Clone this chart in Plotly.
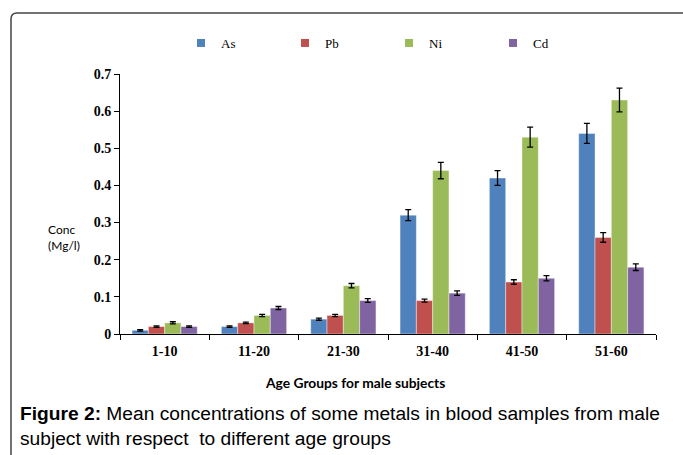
import plotly.graph_objects as go

categories = ["1-10", "11-20", "21-30", "31-40", "41-50", "51-60"]
series_names = ["As", "Pb", "Ni", "Cd"]
as_vals = [0.01, 0.02, 0.04, 0.32, 0.42, 0.54]
pb_vals = [0.02, 0.03, 0.05, 0.09, 0.14, 0.26]
ni_vals = [0.03, 0.05, 0.13, 0.44, 0.53, 0.63]
cd_vals = [0.02, 0.07, 0.09, 0.11, 0.15, 0.18]
as_err = [0.002, 0.002, 0.003, 0.015, 0.02, 0.027]
pb_err = [0.002, 0.002, 0.003, 0.004, 0.006, 0.013]
ni_err = [0.003, 0.003, 0.006, 0.022, 0.027, 0.032]
cd_err = [0.002, 0.004, 0.005, 0.006, 0.007, 0.009]
colors = ["#4F81BD", "#C0504D", "#9BBB59", "#8064A2"]

W, H = 683, 455
L, R, T, B = 120, 27, 74, 121
PW, PH = W - L - R, H - T - B


def px(x):
    return (x - L) / PW


def py(y):
    return (H - B - y) / PH


fig = go.Figure()
for name, vals, errs, col in zip(series_names, [as_vals, pb_vals, ni_vals, cd_vals],
                                 [as_err, pb_err, ni_err, cd_err], colors):
    fig.add_trace(go.Bar(
        x=categories, y=vals, name=name,
        marker=dict(color=col, line=dict(color="rgba(255,255,255,0.5)", width=0.8)),
        error_y=dict(type="data", array=errs, color="black", thickness=1.3, width=3),
        showlegend=False,
    ))
    fig.add_trace(go.Scatter(
        x=[None], y=[None], mode="markers", name=name,
        marker=dict(symbol="square", size=8, color=col), showlegend=True,
    ))

serif_bold = dict(family="Liberation Serif", size=14, color="black", weight="bold")

fig.update_layout(
    width=W, height=H,
    margin=dict(l=L, r=R, t=T, b=B),
    paper_bgcolor="white", plot_bgcolor="white",
    barmode="group", bargap=0.27, bargroupgap=0,
    legend=dict(orientation="h", x=px(181), xanchor="left", y=py(43), yanchor="middle",
                font=dict(family="Liberation Serif", size=13, color="black"),
                entrywidth=59, entrywidthmode="pixels", bgcolor="rgba(0,0,0,0)"),
    xaxis=dict(type="category", showline=True, linecolor="black", linewidth=1,
               ticks="outside", ticklen=5, tickcolor="black", tickson="boundaries",
               tickfont=serif_bold, ticklabelstandoff=4,
               showgrid=False, zeroline=False, fixedrange=True),
    yaxis=dict(range=[0, 0.7], dtick=0.1, showline=True, linecolor="black", linewidth=1,
               ticks="outside", ticklen=5, tickcolor="black", tickfont=serif_bold,
               showgrid=False, zeroline=False, fixedrange=True),
    shapes=[dict(
        type="path", xref="paper", yref="paper",
        path=(f"M {px(11)},{py(470)} L {px(11)},{py(19)} "
              f"Q {px(11)},{py(13)} {px(17)},{py(13)} L {px(700)},{py(13)}"),
        line=dict(color="#444444", width=1.5),
    )],
    annotations=[
        dict(text="Conc<br>(Mg/l)", x=px(46), y=py(237), xref="paper", yref="paper",
             xanchor="left", yanchor="middle", align="left", showarrow=False,
             font=dict(family="Lato", size=12, color="black")),
        dict(text="<b>Age Groups for male subjects</b>", x=px(355), y=py(382), xref="paper", yref="paper",
             xanchor="center", yanchor="middle", showarrow=False,
             font=dict(family="Lato", size=13.8, color="black")),
        dict(text="<b>Figure 2:</b> Mean concentrations of some metals in blood samples from male",
             x=px(18), y=py(413), xref="paper", yref="paper", xanchor="left", yanchor="middle",
             showarrow=False, font=dict(family="Liberation Sans", size=19.2, color="black")),
        dict(text="subject with respect  to different age groups",
             x=px(18), y=py(438), xref="paper", yref="paper", xanchor="left", yanchor="middle",
             showarrow=False, font=dict(family="Liberation Sans", size=19.2, color="black")),
    ],
)

fig.write_html("out.html", config={"displayModeBar": False},
               post_script="document.body.style.margin='0';")
